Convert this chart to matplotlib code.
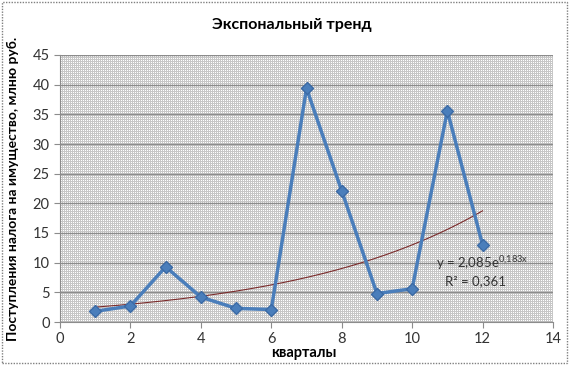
import numpy as np
import matplotlib
matplotlib.use("Agg")
import matplotlib.pyplot as plt
from matplotlib.patches import Rectangle

quarters = [1, 2, 3, 4, 5, 6, 7, 8, 9, 10, 11, 12]
receipts = [1.8, 2.7, 9.3, 4.2, 2.3, 2.1, 39.4, 22.1, 4.8, 5.6, 35.6, 13.0]
trend_a = 2.085
trend_b = 0.183
r2_text = "R² = 0,361"
eq_text = r"y = 2,085e$^{0{,}183x}$"
x_ticks = [0, 2, 4, 6, 8, 10, 12, 14]
y_ticks = [0, 5, 10, 15, 20, 25, 30, 35, 40, 45]

plt.rcParams['font.family'] = ['Lato', 'DejaVu Sans']
plt.rcParams['mathtext.default'] = 'regular'

fig = plt.figure(figsize=(5.69, 3.65), dpi=100)
L, R, T, B = 60, 553, 55, 322
ax = fig.add_axes([L/569, 1-B/365, (R-L)/569, (B-T)/365])

# fine dotted background texture
h, w = B - T, R - L
ii, jj = np.mgrid[0:h, 0:w]
tex = np.where((ii % 2 == 1) & (jj % 2 == 1), 1.0, 0.78)
ax.imshow(tex, cmap='gray', vmin=0, vmax=1, extent=(0, 1, 0, 1),
          transform=ax.transAxes, interpolation='nearest', aspect='auto', zorder=0)

ax.set_xlim(0, 14)
ax.set_ylim(0, 45)
ax.set_xticks(x_ticks)
ax.set_yticks(y_ticks)
ax.yaxis.grid(True, color='#8c8c8c', linewidth=1.0)
ax.set_axisbelow(True)
for s in ['top', 'right']:
    ax.spines[s].set_visible(False)
for s in ['left', 'bottom']:
    ax.spines[s].set_color('#8c8c8c')
    ax.spines[s].set_linewidth(0.8)
ax.tick_params(axis='both', colors='#8c8c8c', labelcolor='#333333',
               labelsize=10.5, length=4, width=0.8)

xt = np.linspace(quarters[0], quarters[-1], 200)
ax.plot(xt, trend_a * np.exp(trend_b * xt), color='#7a2a2a', linewidth=0.8, zorder=3)
ax.plot(quarters, receipts, color='#4a7ebb', linewidth=2.5, marker='D',
        markersize=6, markerfacecolor='#4a7ebb', markeredgecolor='#3b6aa5', zorder=4)

ax.text(12.0, 9.9, eq_text, fontsize=9.5, ha='center', va='center', color='#333333')
ax.text(11.8, 6.8, r2_text, fontsize=9.5, ha='center', va='center', color='#333333')

fig.text(292/569, 1-25/365, "Экспональный тренд", fontsize=11.5, fontweight='bold',
         ha='center', va='center')
ax.set_xlabel("кварталы", fontsize=10.5, fontweight='bold', labelpad=1)
ax.xaxis.set_label_coords(0.495, -0.09)
ax.set_ylabel("Поступления налога на имущество, млню руб.", fontsize=10,
              fontweight='bold', labelpad=10)

border = Rectangle((2/569, 2/365), 565/569, 361/365, transform=fig.transFigure,
                   fill=False, edgecolor='#808080', linestyle=(0, (1, 1)), linewidth=1)
fig.patches.append(border)

fig.savefig("out.png", dpi=100)
